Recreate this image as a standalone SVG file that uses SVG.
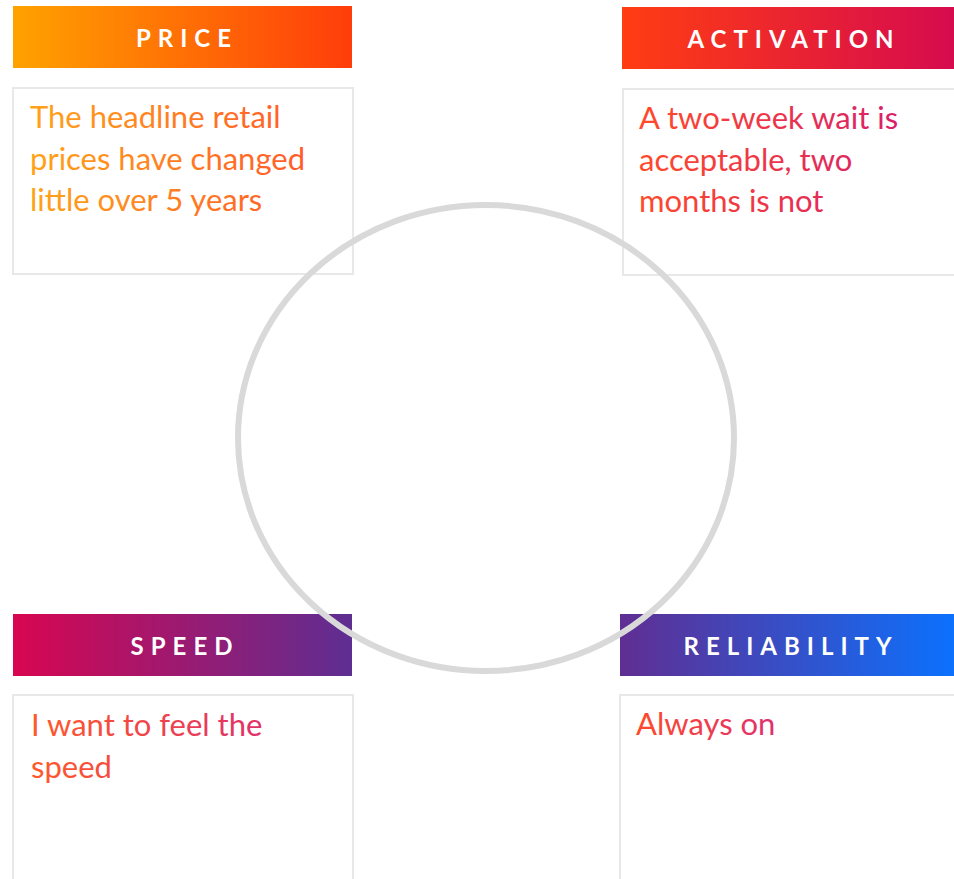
<svg xmlns="http://www.w3.org/2000/svg" width="954" height="879" viewBox="0 0 954 879">
<defs>
<linearGradient id="gPrice" x1="0" y1="0" x2="1" y2="0"><stop offset="0" stop-color="#FFA200"/><stop offset="1" stop-color="#FF3D0A"/></linearGradient>
<linearGradient id="gAct" x1="0" y1="0" x2="1" y2="0"><stop offset="0" stop-color="#FF3D12"/><stop offset="1" stop-color="#D50A50"/></linearGradient>
<linearGradient id="gSpeed" x1="0" y1="0" x2="1" y2="0"><stop offset="0" stop-color="#D80650"/><stop offset="1" stop-color="#5E2E92"/></linearGradient>
<linearGradient id="gRel" x1="0" y1="0" x2="1" y2="0"><stop offset="0" stop-color="#602E92"/><stop offset="1" stop-color="#0A72FF"/></linearGradient>
<linearGradient id="tPrice" gradientUnits="userSpaceOnUse" x1="30" y1="0" x2="310" y2="0"><stop offset="0" stop-color="#FFA31A"/><stop offset="1" stop-color="#FF5A2A"/></linearGradient>
<linearGradient id="tAct" gradientUnits="userSpaceOnUse" x1="639" y1="0" x2="900" y2="0"><stop offset="0" stop-color="#FF4A2A"/><stop offset="1" stop-color="#D8206A"/></linearGradient>
<linearGradient id="tSpeed" gradientUnits="userSpaceOnUse" x1="31" y1="0" x2="265" y2="0"><stop offset="0" stop-color="#FF5A2A"/><stop offset="1" stop-color="#E0306A"/></linearGradient>
<linearGradient id="tRel" gradientUnits="userSpaceOnUse" x1="636" y1="0" x2="772" y2="0"><stop offset="0" stop-color="#FF4A2A"/><stop offset="1" stop-color="#E03070"/></linearGradient>
</defs>
<style>
.hdr{font-family:"Lato","Open Sans","Liberation Sans",sans-serif;font-size:24px;font-weight:bold;fill:#ffffff;letter-spacing:7px;text-anchor:middle}
.box{fill:#ffffff;stroke:#e8e8e8;stroke-width:2}
.body{font-family:"Lato","Open Sans","Liberation Sans",sans-serif;font-size:31px;font-weight:400}
</style>
<rect width="954" height="879" fill="#ffffff"/>
<g id="price">
<rect x="13" y="6" width="339" height="62" fill="url(#gPrice)"/>
<text class="hdr" x="187" y="47">PRICE</text>
<rect class="box" x="13" y="88" width="340" height="186"/>
<text class="body" fill="url(#tPrice)"><tspan x="30" y="128">The headline retail</tspan><tspan x="30" y="170">prices have changed</tspan><tspan x="30" y="211">little over 5 years</tspan></text>
</g>
<g id="activation">
<rect x="622" y="7" width="340" height="62" fill="url(#gAct)"/>
<text class="hdr" x="794" y="48">ACTIVATION</text>
<rect class="box" x="623" y="89" width="340" height="186"/>
<text class="body" fill="url(#tAct)"><tspan x="639" y="129">A two-week wait is</tspan><tspan x="639" y="171">acceptable, two</tspan><tspan x="639" y="212">months is not</tspan></text>
</g>
<g id="speed">
<rect x="13" y="614" width="339" height="62" fill="url(#gSpeed)"/>
<text class="hdr" x="185" y="655">SPEED</text>
<rect class="box" x="13" y="695" width="340" height="200"/>
<text class="body" fill="url(#tSpeed)"><tspan x="31" y="736">I want to feel the</tspan><tspan x="31" y="778">speed</tspan></text>
</g>
<g id="reliability">
<rect x="620" y="614" width="340" height="62" fill="url(#gRel)"/>
<text class="hdr" x="791" y="655">RELIABILITY</text>
<rect class="box" x="620" y="695" width="340" height="200"/>
<text class="body" fill="url(#tRel)"><tspan x="636" y="735">Always on</tspan></text>
</g>
<g id="connectors">
<ellipse cx="486" cy="438" rx="248" ry="233" fill="none" stroke="#d9d9d9" stroke-width="6"/>
</g>
</svg>
